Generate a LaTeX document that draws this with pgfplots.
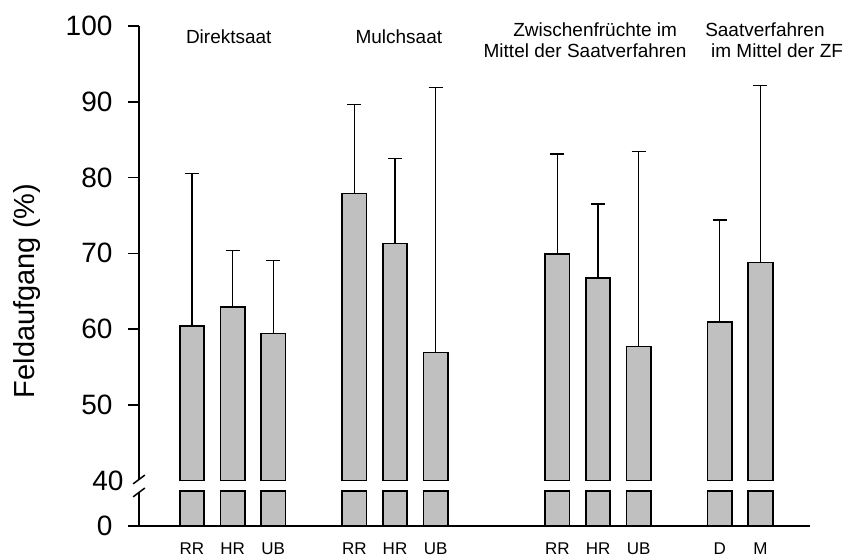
\documentclass[border=0pt]{standalone}
\usepackage{pgfplots}
\pgfplotsset{compat=1.18}
\usepackage{pgfplotstable}
\usepackage{fontspec}
\setmainfont{Liberation Sans}
\definecolor{bargray}{RGB}{192,192,192}

% pos = slot on the x axis, v = mean (%), cap = top of error bar (%)
\pgfplotstableread{
pos v cap
0 60.4 80.5
1 62.9 70.4
2 59.4 69.0
4 77.9 89.6
5 71.3 82.5
6 56.9 91.9
9 69.9 83.1
10 66.7 76.5
11 57.7 83.4
13 60.9 74.4
14 68.8 92.1
}\data

\begin{document}
\begin{tikzpicture}
\begin{axis}[
  scale only axis, width=671pt, height=500pt,
  xmin=-1.305, xmax=15.22, ymin=0, ymax=66,
  ybar stacked, bar width=24.5pt,
  axis x line*=bottom, axis y line*=left,
  y axis line style={draw=none},
  x axis line style={line width=1.8pt, -},
  xtick={0,1,2,4,5,6,9,10,11,13,14},
  xticklabels={RR,HR,UB,RR,HR,UB,RR,HR,UB,D,M},
  xtick style={draw=none},
  xticklabel style={font=\fontsize{17}{20}\selectfont, anchor=base, yshift=-18pt},
  ytick={0,16,26,36,46,56,66},
  yticklabels={0,50,60,70,80,90,100},
  extra y ticks={6}, extra y tick labels={40},
  extra y tick style={major tick length=0pt},
  tick align=outside, major tick length=11pt,
  ytick style={line width=1.5pt, black},
  yticklabel style={font=\fontsize{28}{30}\selectfont, anchor=east, xshift=-12pt},
  ylabel={Feldaufgang (\%)},
  ylabel style={font=\fontsize{29}{32}\selectfont, at={(rel axis cs:0,0.47)}, anchor=center, yshift=112pt},
  clip=false,
]
\addplot[fill=bargray, draw=black, line width=1.6pt] table[x=pos, y expr=4.6] {\data};
\addplot[fill=none, draw=none] table[x=pos, y expr=1.4] {\data};
\addplot[fill=bargray, draw=black, line width=1.6pt,
  error bars/.cd, y dir=plus, y explicit,
  error bar style={line width=1.2pt, black, solid},
  error mark options={rotate=90, mark size=7pt, line width=1.2pt, black}]
  table[x=pos, y expr=\thisrow{v}-40, y error expr=\thisrow{cap}-\thisrow{v}] {\data};

% broken y axis line
\draw[line width=1.8pt] (axis cs:-1.305,0) -- (axis cs:-1.305,4.43);
\draw[line width=1.8pt] (axis cs:-1.305,6.14) -- (axis cs:-1.305,66);
\draw[line width=1.5pt] (axis cs:-1.305,6.14) ++(-5.85pt,-4.4pt) -- ++(11.7pt,8.8pt);
\draw[line width=1.5pt] (axis cs:-1.305,4.43) ++(-5.85pt,-4.4pt) -- ++(11.7pt,8.8pt);

% group titles
\node[anchor=base, font=\fontsize{19}{22}\selectfont] at (axis cs:0.906,63.67) {Direktsaat};
\node[anchor=base, font=\fontsize{19}{22}\selectfont] at (axis cs:5.094,63.67) {Mulchsaat};
\node[anchor=base, font=\fontsize{19}{22}\selectfont] at (axis cs:9.93,64.64) {Zwischenfrüchte im};
\node[anchor=base, font=\fontsize{19}{22}\selectfont] at (axis cs:9.68,61.78) {Mittel der Saatverfahren};
\node[anchor=base, font=\fontsize{19}{22}\selectfont] at (axis cs:14.11,64.64) {Saatverfahren};
\node[anchor=base, font=\fontsize{19}{22}\selectfont] at (axis cs:14.41,61.78) {im Mittel der ZF};
\end{axis}
\path ([shift={(-139pt,-31pt)}]current axis.south west) rectangle ([shift={(37pt,26pt)}]current axis.north east);
\end{tikzpicture}
\end{document}
